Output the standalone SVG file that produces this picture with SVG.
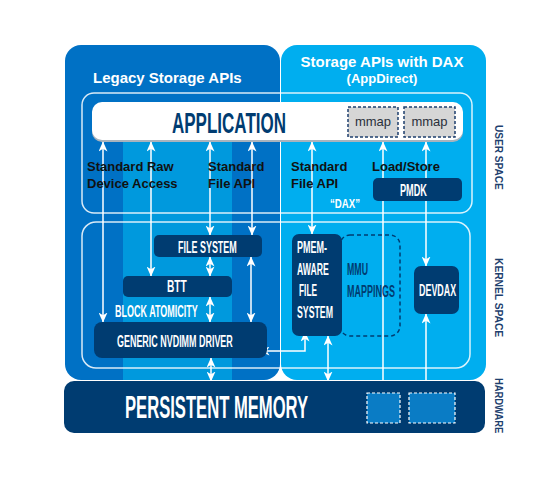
<svg xmlns="http://www.w3.org/2000/svg" width="555" height="480" viewBox="0 0 555 480">
<defs>
<marker id="ah" viewBox="0 0 10 9" refX="9.5" refY="4.5" markerWidth="10" markerHeight="9" markerUnits="userSpaceOnUse" orient="auto-start-reverse">
<path d="M0,0 L10,4.5 L0,9 L2.8,4.5 z" fill="#fff"/>
</marker>
<clipPath id="lp"><rect x="65" y="45" width="215" height="335" rx="16"/></clipPath>
<style>
.lbl{font-family:"Liberation Sans",Arial,sans-serif;font-weight:bold}
.c{font-family:"Liberation Sans",Arial,sans-serif;font-weight:bold;fill:#fff}
.cn{font-family:"Liberation Sans",Arial,sans-serif;font-weight:bold;fill:#003c71}
.box{fill:#003c71}
.outline{fill:none;stroke:#fff;stroke-width:1.5;stroke-opacity:0.85}
.con{stroke:#fff;stroke-width:1.5;fill:none;marker-start:url(#ah);marker-end:url(#ah)}
.dk{font-family:"Liberation Sans",Arial,sans-serif;font-weight:bold;font-size:13px;fill:#111}
.side{font-family:"Liberation Sans",Arial,sans-serif;font-weight:bold;font-size:11px;fill:#1e3f6e}
</style>
</defs>
<rect width="555" height="480" fill="#fff"/>
<g id="panels">
<rect x="65" y="45" width="215" height="335" rx="16" fill="#0071c5"/>
<rect x="123" y="138" width="109" height="250" fill="#0099dd" clip-path="url(#lp)"/>
<rect x="281" y="45" width="205" height="335" rx="16" fill="#00aeef"/>
<text class="lbl" x="93" y="83" font-size="15" fill="#fff">Legacy Storage APIs</text>
<text class="lbl" x="382" y="67" font-size="15" fill="#fff" text-anchor="middle">Storage APIs with DAX</text>
<text class="lbl" x="382" y="83" font-size="13" fill="#fff" text-anchor="middle">(AppDirect)</text>
</g>
<g id="user-space">
<rect class="outline" x="82" y="93" width="390" height="120" rx="12"/>
<text class="side" transform="translate(495,125) rotate(90) scale(0.6,1)" textLength="108" lengthAdjust="spacingAndGlyphs">USER SPACE</text>
</g>
<g id="kernel-space">
<rect class="outline" x="82" y="222" width="388" height="146" rx="14"/>
<text class="side" transform="translate(495,258) rotate(90) scale(0.6,1)" textLength="132" lengthAdjust="spacingAndGlyphs">KERNEL SPACE</text>
</g>
<g id="hardware-label">
<text class="side" transform="translate(495,378) rotate(90) scale(0.6,1)" textLength="92" lengthAdjust="spacingAndGlyphs">HARDWARE</text>
</g>
<g id="connectors">
<line class="con" x1="103" y1="142" x2="103" y2="322"/>
<line class="con" x1="151" y1="142" x2="151" y2="276"/>
<line class="con" x1="210" y1="142" x2="210" y2="235"/>
<line class="con" x1="252" y1="142" x2="252" y2="235"/>
<line class="con" x1="210" y1="257" x2="210" y2="276"/>
<line class="con" x1="210" y1="297" x2="210" y2="322"/>
<line class="con" x1="251" y1="257" x2="251" y2="322"/>
<line class="con" x1="211" y1="358" x2="211" y2="381"/>
<line class="con" x1="312" y1="142" x2="312" y2="234"/>
<line class="con" x1="383" y1="142" x2="383" y2="393"/>
<line class="con" x1="426" y1="142" x2="426" y2="266"/>
<line class="con" x1="426" y1="314" x2="426" y2="393"/>
<line class="con" x1="328" y1="336" x2="328" y2="381"/>
<polyline class="con" points="260,351 305,351 305,332"/>
</g>
<g id="application">
<rect x="92" y="104" width="371" height="38" rx="10" fill="#a9b3bd"/>
<rect x="92" y="102" width="371" height="38" rx="10" fill="#fff"/>
<text class="cn" transform="translate(172,133) scale(0.6,1)" font-size="29" textLength="190" lengthAdjust="spacingAndGlyphs">APPLICATION</text>
</g>
<g id="mmap1">
<rect x="348" y="107" width="50" height="30" fill="#d6d6d6" stroke="#1e3f6e" stroke-width="1.5" stroke-dasharray="3,2"/>
<text x="373" y="126" font-family="Liberation Sans, Arial, sans-serif" font-size="13" fill="#2a2f3a" text-anchor="middle">mmap</text>
</g>
<g id="mmap2">
<rect x="404" y="107" width="51" height="30" fill="#d6d6d6" stroke="#1e3f6e" stroke-width="1.5" stroke-dasharray="3,2"/>
<text x="429.5" y="126" font-family="Liberation Sans, Arial, sans-serif" font-size="13" fill="#2a2f3a" text-anchor="middle">mmap</text>
</g>
<g id="labels-user">
<text class="dk" x="87" y="171">Standard Raw</text>
<text class="dk" x="87" y="188">Device Access</text>
<text class="dk" x="208" y="171">Standard</text>
<text class="dk" x="208" y="188">File API</text>
<text class="dk" x="291" y="171">Standard</text>
<text class="dk" x="291" y="188">File API</text>
<text class="dk" x="372" y="171">Load/Store</text>
<text class="c" transform="translate(330,208) scale(0.6,1)" font-size="13" textLength="50" lengthAdjust="spacingAndGlyphs">“DAX”</text>
</g>
<g id="pmdk">
<rect class="box" x="373" y="178" width="89" height="23" rx="5"/>
<text class="c" transform="translate(400,196) scale(0.6,1)" font-size="17" textLength="45" lengthAdjust="spacingAndGlyphs">PMDK</text>
</g>
<g id="file-system">
<rect class="box" x="154" y="235" width="108" height="22" rx="5"/>
<text class="c" transform="translate(178,253) scale(0.6,1)" font-size="17" textLength="98" lengthAdjust="spacingAndGlyphs">FILE SYSTEM</text>
</g>
<g id="btt">
<rect class="box" x="123" y="276" width="109" height="21" rx="5"/>
<text class="c" transform="translate(167,292) scale(0.6,1)" font-size="17" textLength="33" lengthAdjust="spacingAndGlyphs">BTT</text>
<text class="c" transform="translate(115,317) scale(0.6,1)" font-size="16" textLength="138" lengthAdjust="spacingAndGlyphs">BLOCK ATOMICITY</text>
</g>
<g id="nvdimm-driver">
<rect class="box" x="94" y="322" width="173" height="36" rx="8"/>
<text class="c" transform="translate(117,347) scale(0.6,1)" font-size="17" textLength="193" lengthAdjust="spacingAndGlyphs">GENERIC NVDIMM DRIVER</text>
</g>
<g id="mmu">
<rect x="340" y="235" width="60" height="101" rx="10" fill="none" stroke="#003c71" stroke-width="1.5" stroke-dasharray="4,3"/>
<text class="cn" transform="translate(347,275) scale(0.6,1)" font-size="17" textLength="35" lengthAdjust="spacingAndGlyphs">MMU</text>
<text class="cn" transform="translate(347,297) scale(0.6,1)" font-size="17" textLength="80" lengthAdjust="spacingAndGlyphs">MAPPINGS</text>
</g>
<g id="pmem-fs">
<rect class="box" x="292" y="234" width="50" height="102" rx="7"/>
<text class="c" transform="translate(297,253) scale(0.6,1)" font-size="17" textLength="50" lengthAdjust="spacingAndGlyphs">PMEM-</text>
<text class="c" transform="translate(297,275) scale(0.6,1)" font-size="17" textLength="53" lengthAdjust="spacingAndGlyphs">AWARE</text>
<text class="c" transform="translate(299,296) scale(0.6,1)" font-size="17" textLength="30" lengthAdjust="spacingAndGlyphs">FILE</text>
<text class="c" transform="translate(297,318) scale(0.6,1)" font-size="17" textLength="60" lengthAdjust="spacingAndGlyphs">SYSTEM</text>
</g>
<g id="devdax">
<rect class="box" x="414" y="266" width="45" height="48" rx="7"/>
<text class="c" transform="translate(419,296) scale(0.6,1)" font-size="17" textLength="62" lengthAdjust="spacingAndGlyphs">DEVDAX</text>
</g>
<g id="persistent-memory">
<rect class="box" x="64" y="381" width="421" height="52" rx="10"/>
<text class="c" transform="translate(125,418) scale(0.6,1)" font-size="31" textLength="305" lengthAdjust="spacingAndGlyphs">PERSISTENT MEMORY</text>
<rect x="367" y="393" width="33" height="30" fill="#0a7cc5" stroke="#fff" stroke-width="1.2" stroke-dasharray="3,2"/>
<rect x="409" y="393" width="46" height="30" fill="#0a7cc5" stroke="#fff" stroke-width="1.2" stroke-dasharray="3,2"/>
</g>
</svg>
